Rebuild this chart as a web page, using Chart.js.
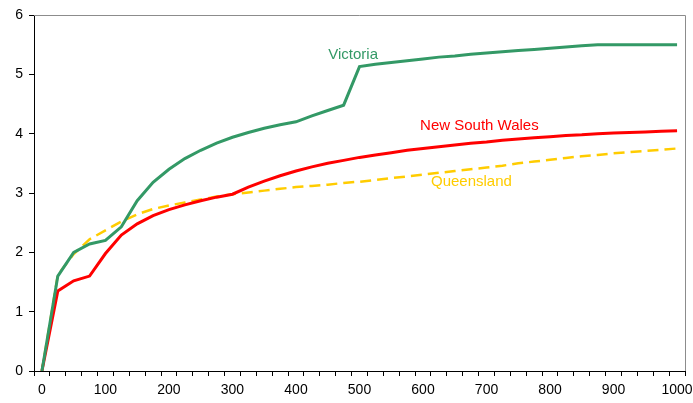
<!DOCTYPE html>
<html>
<head>
<meta charset="utf-8">
<script src="https://cdn.jsdelivr.net/npm/chart.js@4/dist/chart.umd.min.js"></script>
<style>
html,body{margin:0;padding:0;background:#fff;}
#wrap{width:693px;height:403px;position:relative;}
</style>
</head>
<body>
<div id="wrap"><canvas id="c" width="693" height="403"></canvas></div>
<script>
const xLabels = ['0','25','50','75','100','125','150','175','200','225','250','275','300','325','350','375','400','425','450','475','500','525','550','575','600','625','650','675','700','725','750','775','800','825','850','875','900','925','950','975','1000'];
const victoria = [0,1.6,2.0,2.14,2.2,2.43,2.87,3.18,3.4,3.58,3.72,3.84,3.94,4.02,4.09,4.15,4.2,4.3,4.39,4.48,5.13,5.17,5.2,5.23,5.26,5.29,5.31,5.34,5.36,5.38,5.4,5.42,5.44,5.46,5.48,5.5,5.5,5.5,5.5,5.5,5.5];
const nsw = [0,1.35,1.52,1.6,1.98,2.29,2.48,2.62,2.72,2.8,2.87,2.93,2.98,3.1,3.2,3.29,3.37,3.44,3.5,3.55,3.6,3.64,3.68,3.72,3.75,3.78,3.81,3.84,3.86,3.89,3.91,3.93,3.95,3.97,3.98,4.0,4.01,4.02,4.03,4.04,4.05];
const queensland = [0,1.62,1.97,2.22,2.37,2.52,2.64,2.73,2.79,2.84,2.89,2.94,2.98,3.01,3.04,3.07,3.1,3.12,3.14,3.17,3.19,3.22,3.25,3.28,3.31,3.34,3.37,3.4,3.43,3.46,3.5,3.53,3.56,3.59,3.62,3.64,3.67,3.69,3.71,3.73,3.75];
const seriesNames = ['Victoria','New South Wales','Queensland'];
const seriesColors = ['#339966','#FF0000','#FFCC00'];
// label anchors in data units: [category index, value]
const labelAnchors = [[19.6,5.33],[27.55,4.13],[27.05,3.18]];

const frame = {
  id:'frame',
  beforeDatasetsDraw(chart){
    const a = chart.chartArea, ctx = chart.ctx;
    ctx.save();
    ctx.strokeStyle = '#8c8c8c';
    ctx.lineWidth = 1;
    ctx.beginPath();
    ctx.moveTo(a.left, a.top + 0.5);
    ctx.lineTo(a.right + 0.5, a.top + 0.5);
    ctx.lineTo(a.right + 0.5, a.bottom);
    ctx.stroke();
    ctx.restore();
  },
  afterDatasetsDraw(chart){
    const ctx = chart.ctx, xs = chart.scales.x, ys = chart.scales.y;
    ctx.save();
    ctx.font = '15px "Liberation Sans", Arial, sans-serif';
    ctx.textAlign = 'center';
    ctx.textBaseline = 'middle';
    seriesNames.forEach((n,i)=>{
      ctx.fillStyle = seriesColors[i];
      ctx.fillText(n, xs.getPixelForValue(labelAnchors[i][0]), ys.getPixelForValue(labelAnchors[i][1]));
    });
    ctx.restore();
  }
};

new Chart(document.getElementById('c'), {
  type:'line',
  data:{
    labels:xLabels,
    datasets:[
      {label:seriesNames[0],data:victoria,borderColor:seriesColors[0],borderWidth:3,pointRadius:0,tension:0,fill:false},
      {label:seriesNames[1],data:nsw,borderColor:seriesColors[1],borderWidth:3,pointRadius:0,tension:0,fill:false},
      {label:seriesNames[2],data:queensland,borderColor:seriesColors[2],borderWidth:2.5,borderDash:[11,6],pointRadius:0,tension:0,fill:false}
    ]
  },
  options:{
    responsive:false,
    animation:false,
    layout:{padding:{top:15,right:8,left:0,bottom:0}},
    plugins:{legend:{display:false},tooltip:{enabled:false}},
    scales:{
      x:{
        type:'category',
        offset:true,
        grid:{offset:true,drawOnChartArea:false,drawTicks:true,tickLength:5,color:'#000'},
        border:{color:'#000',width:1},
        ticks:{autoSkip:false,maxRotation:0,minRotation:0,padding:6,color:'#000',
          font:{family:'"Liberation Sans", Arial, sans-serif',size:14},
          callback:function(v,i){return i%4===0?xLabels[i]:'';}},
        afterFit(s){s.height=32;s.paddingLeft=0;s.paddingRight=0;}
      },
      y:{
        min:0,max:6,
        grid:{drawOnChartArea:false,drawTicks:true,tickLength:5,color:'#000'},
        border:{color:'#000',width:1},
        ticks:{stepSize:1,padding:6,color:'#000',
          font:{family:'"Liberation Sans", Arial, sans-serif',size:14}},
        afterFit(s){s.width=34;s.paddingTop=0;s.paddingBottom=0;}
      }
    }
  },
  plugins:[frame]
});
</script>
</body>
</html>
